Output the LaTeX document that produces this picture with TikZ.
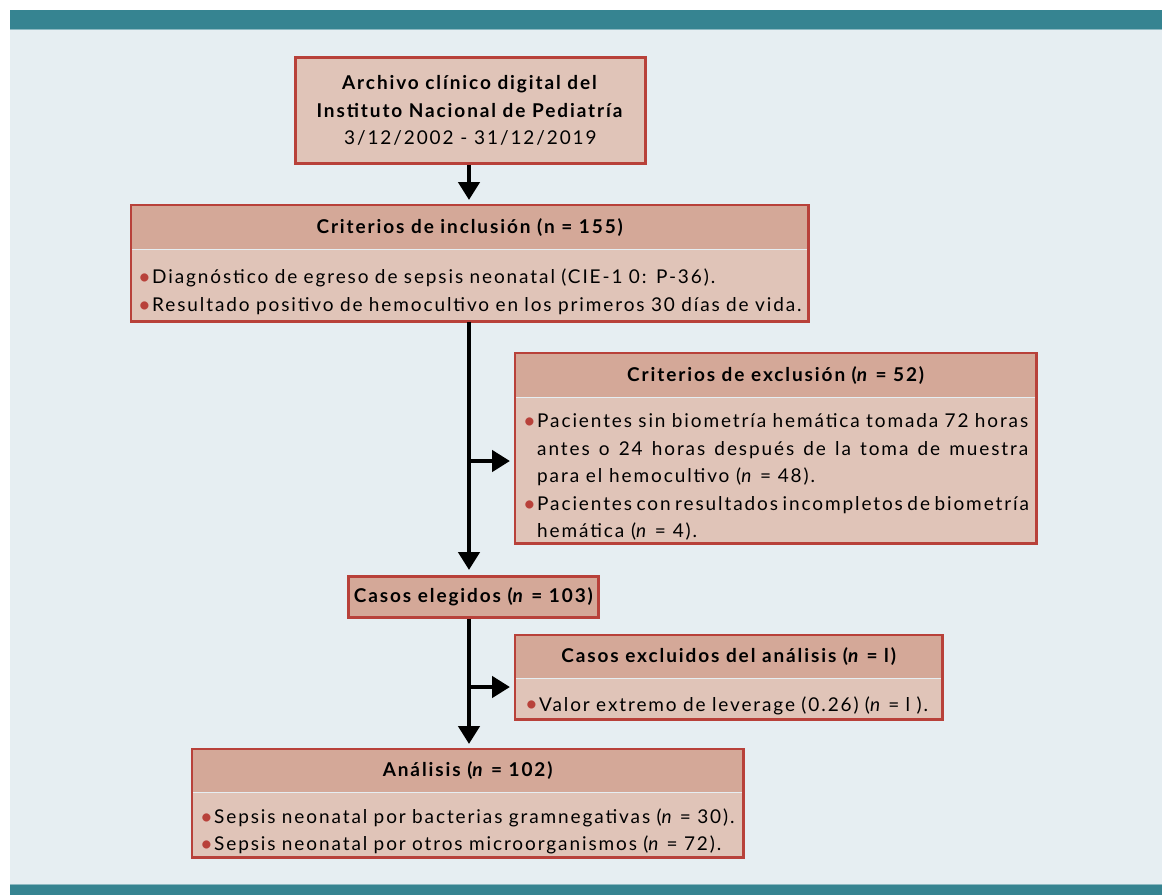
\documentclass[tikz,border=0pt]{standalone}
\usepackage{fontspec}
\setmainfont{Lato}[LetterSpace=10]
\usetikzlibrary{arrows.meta,positioning}

\definecolor{barteal}{HTML}{368491}
\definecolor{barline}{HTML}{8DB9C1}
\definecolor{panelbg}{HTML}{E6EEF2}
\definecolor{hdrfill}{HTML}{D4A898}
\definecolor{bdyfill}{HTML}{E0C4B8}
\definecolor{boxred}{HTML}{B8413A}

\newcommand{\fs}{\fontsize{19}{27.5}\selectfont}
\newcommand{\itm}{\par\hangindent=14pt\hangafter=1\noindent\hbox to 14pt{\raisebox{-0.8pt}{\textcolor{boxred}{\fontsize{22}{22}\selectfont\textbullet}}\hss}}

\tikzset{
  hdr/.style={fill=hdrfill, anchor=north west, inner sep=0pt, font=\fs\bfseries},
  bdy/.style={fill=bdyfill, anchor=north west, inner xsep=10pt, inner ysep=0pt, align=left, font=\fs},
  frame/.style={draw=boxred, line width=2.8pt},
  flow/.style={line width=4.5pt, -{Triangle[length=18pt,width=21pt]}, shorten >=5pt}
}

\begin{document}
\begin{tikzpicture}[x=1pt,y=-1pt]
  \useasboundingbox (0,0) rectangle (1162,895);
  % background and bars
  \fill[panelbg] (10,29) rectangle (1162,884);
  \fill[barteal] (10,10) rectangle (1162,29);
  \fill[barteal] (10,884) rectangle (1162,895);
  \draw[barline, line width=1pt] (10,29.5) -- (1162,29.5);
  \draw[barline, line width=1pt] (10,884.5) -- (1162,884.5);

  % source
  \node[frame, fill=bdyfill, anchor=north west, minimum width=350pt, minimum height=106pt,
        align=center, font=\fs] (arch) at (294,56)
    {\textbf{Archivo clínico digital del}\\\textbf{Instituto Nacional de Pediatría}\\3/12/2002 - 31/12/2019};

  % inclusion
  \node[hdr, minimum width=677pt, minimum height=44pt] (inch) at (131,205) {Criterios de inclusión (n = 155)};
  \node[bdy, inner xsep=7pt, text width=663pt, minimum height=72pt] (incb) at (inch.south west)
    {\itm Diagnóstico de egreso de sepsis neonatal (CIE-1 0: P-36).
     \itm Resultado positivo de hemocultivo en los primeros 30 días de vida.\par};
  \draw[frame] (inch.north west) rectangle (incb.south east);

  % exclusion
  \node[hdr, minimum width=521pt, minimum height=44pt] (exh) at (515,353) {Criterios de exclusión (\textit{n} = 52)};
  \node[bdy, inner xsep=8pt, text width=505pt, minimum height=146pt, align=justify] (exb) at (exh.south west)
    {\itm Pacientes sin biometría hemática tomada 72 horas\linebreak antes o 24 horas después de la toma de muestra\linebreak para el hemocultivo (\textit{n} = 48).
     \itm Pacientes con resultados incompletos de biometría\linebreak hemática (\textit{n} = 4).\par};
  \draw[frame] (exh.north west) rectangle (exb.south east);

  % chosen
  \node[frame, fill=hdrfill, anchor=north west, minimum width=250pt, minimum height=41pt,
        font=\fs\bfseries] (elig) at (347,575) {Casos elegidos (\textit{n} = 103)};

  % excluded from analysis
  \node[hdr, minimum width=427pt, minimum height=43pt] (exch) at (515,635) {Casos excluidos del análisis (\textit{n} = l)};
  \node[bdy, text width=407pt, minimum height=41pt] (excb) at (exch.south west)
    {\itm Valor extremo de leverage (0.26) (\textit{n} = l ).\par};
  \draw[frame] (exch.north west) rectangle (excb.south east);

  % analysis
  \node[hdr, minimum width=551pt, minimum height=43pt] (anah) at (192,749) {Análisis (\textit{n} = 102)};
  \node[bdy, inner xsep=8pt, text width=535pt, minimum height=65pt] (anab) at (anah.south west)
    {\itm Sepsis neonatal por bacterias gramnegativas (\textit{n} = 30).
     \itm Sepsis neonatal por otros microorganismos (\textit{n} = 72).\par};
  \draw[frame] (anah.north west) rectangle (anab.south east);

  % connectors
  \coordinate (br1) at (469,461);
  \coordinate (br2) at (469,687);
  \draw[flow] (br1 |- arch.south) -- (br1 |- inch.north);
  \draw[flow] (br1 |- incb.south) -- (br1 |- elig.north);
  \draw[flow] (br1) -- (br1 -| exb.west);
  \draw[flow] (br2 |- elig.south) -- (br2 |- anah.north);
  \draw[flow] (br2) -- (br2 -| excb.west);
\end{tikzpicture}
\end{document}
